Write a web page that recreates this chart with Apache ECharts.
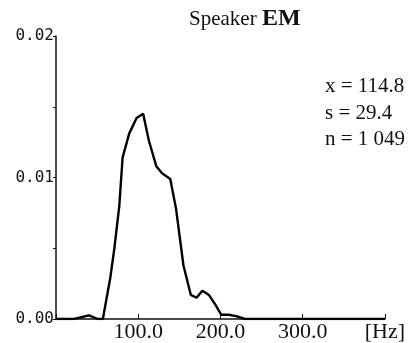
<!DOCTYPE html>
<html><head><meta charset="utf-8">
<script src="https://cdn.jsdelivr.net/npm/echarts@6/dist/echarts.min.js"></script>
<style>html,body{margin:0;padding:0;background:#fff}#c{width:408px;height:343px}</style>
</head><body><div id="c"></div>
<script>
var freqHz = [0, 22, 40, 51, 57, 66, 71, 77, 81, 89, 98, 106, 113, 122, 129, 139, 146, 155, 164, 171, 178, 186, 194, 201, 210, 219, 230, 400];
var density = [0, 0, 0.00026, 0, 0, 0.0029, 0.0050, 0.0080, 0.0114, 0.0131, 0.0142, 0.0145, 0.0126, 0.0108, 0.0103, 0.0099, 0.0078, 0.0038, 0.0017, 0.0015, 0.0020, 0.0017, 0.0010, 0.0003, 0.0003, 0.0002, 0, 0];
var xTickLabels = {100: '100.0', 200: '200.0', 300: '300.0', 400: '[Hz]'};
var yTickLabels = {'0': '0.00', '0.01': '0.01', '0.02': '0.02'};
var statLines = ['x = 114.8', 's = 29.4', 'n = 1 049'];

var chart = echarts.init(document.getElementById('c'));
var pts = freqHz.map(function(f, i){ return [f, density[i]]; });
chart.setOption({
  animation: false,
  grid: {left: 56, right: 22, top: 36, bottom: 21, containLabel: false},
  title: {
    text: '{a|Speaker }{b|EM}', left: 184, top: 2,
    textStyle: {rich: {
      a: {fontFamily: 'Liberation Serif', fontSize: 21, fontWeight: 'normal', color: '#111'},
      b: {fontFamily: 'Liberation Serif', fontSize: 24, fontWeight: 'bold', color: '#111'}
    }}
  },
  graphic: statLines.map(function(t, i){
    return {type: 'text', left: 325, top: 76 + i * 26.5,
      style: {text: t, font: '21px "Liberation Serif"', fill: '#111'}};
  }),
  xAxis: {
    type: 'value', min: 0, max: 400, interval: 100,
    axisLine: {lineStyle: {color: '#111', width: 1.5}},
    axisTick: {inside: true, length: 5, lineStyle: {color: '#111'}},
    splitLine: {show: false},
    axisLabel: {margin: 2, fontFamily: 'Liberation Serif', fontSize: 22, color: '#111',
      formatter: function(v){ return xTickLabels[v] || ''; }}
  },
  yAxis: {
    type: 'value', min: 0, max: 0.02, interval: 0.005,
    axisLine: {show: true, lineStyle: {color: '#111', width: 1.5}},
    axisTick: {show: true, length: 3, lineStyle: {color: '#111'}},
    splitLine: {show: false},
    axisLabel: {margin: 2, fontFamily: 'DejaVu Sans Mono', fontSize: 16, color: '#111',
      formatter: function(v){ var k = String(Math.round(v * 1000) / 1000); return yTickLabels[k] || ''; }}
  },
  series: [{type: 'line', data: pts, showSymbol: false, smooth: false,
    lineStyle: {color: '#000', width: 2.4}}]
});
</script></body></html>
